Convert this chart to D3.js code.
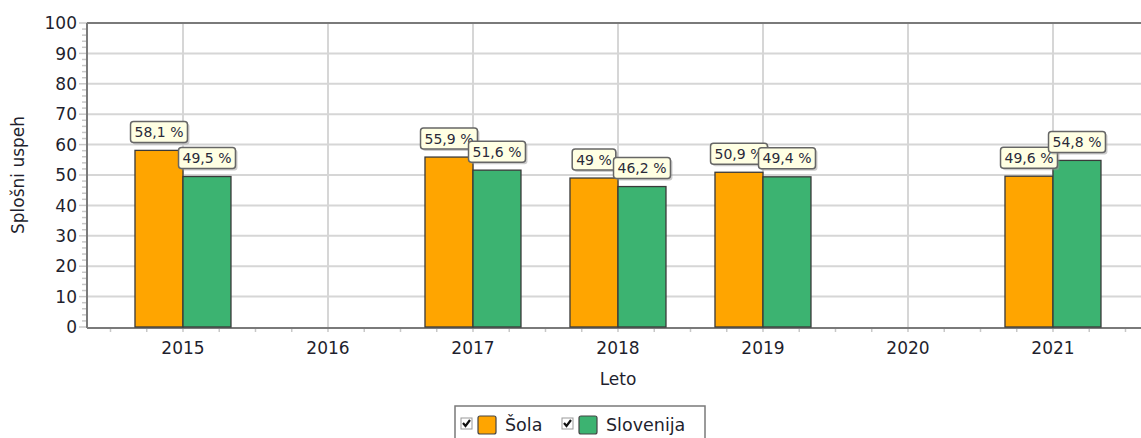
<!DOCTYPE html>
<html>
<head>
<meta charset="utf-8">
<script src="https://cdn.jsdelivr.net/npm/d3@7"></script>
<style>
  body { margin: 0; background: #fff; }
  svg { display: block; font-family: "DejaVu Sans", Verdana, sans-serif; }
</style>
</head>
<body>
<div class="graph_container"></div>
<script>
// data
const years = [2015, 2017, 2018, 2019, 2021];
const solaValues = [58.1, 55.9, 49, 50.9, 49.6];
const slovenijaValues = [49.5, 51.6, 46.2, 49.4, 54.8];
const seriesNames = ["Šola", "Slovenija"];
const yTicks = [0, 10, 20, 30, 40, 50, 60, 70, 80, 90, 100];
const xTickYears = [2015, 2016, 2017, 2018, 2019, 2020, 2021];

// dimensions
const W = 1141, H = 438;
const plotLeft = 87, plotTop = 23, plotRight = 1141, plotBottom = 327;
const colors = ["#FFA500", "#3CB371"];
const barW = 48;

const svg = d3.select(".graph_container").append("svg")
  .attr("width", W).attr("height", H);

const x = d3.scaleLinear().domain([2014.338, 2021.607]).range([plotLeft, plotRight]);
const y = d3.scaleLinear().domain([0, 100]).range([plotBottom, plotTop]);

// grid
svg.append("g").selectAll("line").data(yTicks.slice(1)).join("line")
  .attr("x1", plotLeft).attr("x2", plotRight)
  .attr("y1", d => y(d)).attr("y2", d => y(d))
  .attr("stroke", "#d6d6d6").attr("stroke-width", 2);
svg.append("g").selectAll("line").data(xTickYears).join("line")
  .attr("x1", d => x(d)).attr("x2", d => x(d))
  .attr("y1", plotTop).attr("y2", plotBottom)
  .attr("stroke", "#d6d6d6").attr("stroke-width", 2);

// minor ticks
const yMinor = d3.range(0, 101, 2);
svg.append("g").selectAll("line").data(yMinor).join("line")
  .attr("x1", d => d % 10 === 0 ? 79 : 82).attr("x2", plotLeft)
  .attr("y1", d => y(d)).attr("y2", d => y(d))
  .attr("stroke", "#c8c8c8").attr("stroke-width", 1.5);
const xMinor = d3.range(2014.5, 2021.6, 0.25);
svg.append("g").selectAll("line").data(xMinor).join("line")
  .attr("x1", d => x(d)).attr("x2", d => x(d))
  .attr("y1", plotBottom).attr("y2", plotBottom + 5)
  .attr("stroke", "#c8c8c8").attr("stroke-width", 1.5);

// axes lines
svg.append("line").attr("x1", plotLeft).attr("x2", plotRight).attr("y1", plotTop).attr("y2", plotTop)
  .attr("stroke", "#7a7a7a").attr("stroke-width", 2);
svg.append("line").attr("x1", plotLeft).attr("x2", plotLeft).attr("y1", plotTop).attr("y2", plotBottom + 1)
  .attr("stroke", "#7a7a7a").attr("stroke-width", 2);
svg.append("line").attr("x1", plotLeft).attr("x2", plotRight).attr("y1", plotBottom + 1).attr("y2", plotBottom + 1)
  .attr("stroke", "#7a7a7a").attr("stroke-width", 2);

// tick labels
svg.append("g").selectAll("text").data(yTicks).join("text")
  .attr("x", 77).attr("y", d => y(d)).attr("dy", "0.36em")
  .attr("text-anchor", "end").attr("font-size", 17).attr("fill", "#1f1f2e")
  .text(d => d);
svg.append("g").selectAll("text").data(xTickYears).join("text")
  .attr("x", d => x(d)).attr("y", 354)
  .attr("text-anchor", "middle").attr("font-size", 17).attr("fill", "#1f1f2e")
  .text(d => d);

// axis titles
svg.append("text").attr("x", x(2018)).attr("y", 385)
  .attr("text-anchor", "middle").attr("font-size", 17).attr("fill", "#1f1f2e").text("Leto");
svg.append("text").attr("transform", "translate(24,175) rotate(-90)")
  .attr("text-anchor", "middle").attr("font-size", 17).attr("fill", "#1f1f2e").text("Splošni uspeh");

// bars
const series = [solaValues, slovenijaValues];
series.forEach((vals, si) => {
  svg.append("g").selectAll("rect").data(years).join("rect")
    .attr("x", (d) => x(d) - barW + si * barW)
    .attr("y", (d, i) => y(vals[i]))
    .attr("width", barW)
    .attr("height", (d, i) => y(0) - y(vals[i]))
    .attr("fill", colors[si])
    .attr("stroke", "#3a3a3a").attr("stroke-width", 1.3);
});

// value labels
const fmt = v => String(v).replace(".", ",") + " %";
series.forEach((vals, si) => {
  years.forEach((yr, i) => {
    const cx = x(yr) - barW / 2 + si * barW;
    const by = y(vals[i]) - 8;
    const g = svg.append("g");
    const t = g.append("text").attr("x", cx).attr("y", by - 5.5)
      .attr("text-anchor", "middle").attr("font-size", 14).attr("fill", "#2a2a3a")
      .text(fmt(vals[i]));
    const bw = t.node().getComputedTextLength() + 8;
    g.insert("rect", "text").attr("x", cx - bw / 2 + 2).attr("y", by - 21 + 2)
      .attr("width", bw).attr("height", 21).attr("rx", 3)
      .attr("fill", "#999").attr("opacity", 0.5);
    g.insert("rect", "text").attr("x", cx - bw / 2).attr("y", by - 21)
      .attr("width", bw).attr("height", 21).attr("rx", 3)
      .attr("fill", "#ffffe3").attr("stroke", "#666").attr("stroke-width", 1.5);
  });
});

// legend
const lg = svg.append("g");
lg.append("rect").attr("x", 455).attr("y", 406).attr("width", 250).attr("height", 40)
  .attr("fill", "#fff").attr("stroke", "#7a7a7a").attr("stroke-width", 1.5);
const legendX = [461, 562];
seriesNames.forEach((name, i) => {
  const lx = legendX[i];
  lg.append("rect").attr("x", lx).attr("y", 418).attr("width", 11).attr("height", 11)
    .attr("fill", "#fff").attr("stroke", "#999").attr("stroke-width", 1);
  lg.append("path").attr("d", `M${lx + 2},${423} L${lx + 4.5},${426} L${lx + 9},${420}`)
    .attr("fill", "none").attr("stroke", "#111").attr("stroke-width", 2.2);
  lg.append("rect").attr("x", lx + 17).attr("y", 416).attr("width", 18).attr("height", 18)
    .attr("rx", 2).attr("fill", colors[i]).attr("stroke", "#444").attr("stroke-width", 1.2);
  lg.append("text").attr("x", lx + 44).attr("y", 431).attr("font-size", 17.5)
    .attr("fill", "#1f1f2e").text(name);
});
</script>
</body>
</html>
